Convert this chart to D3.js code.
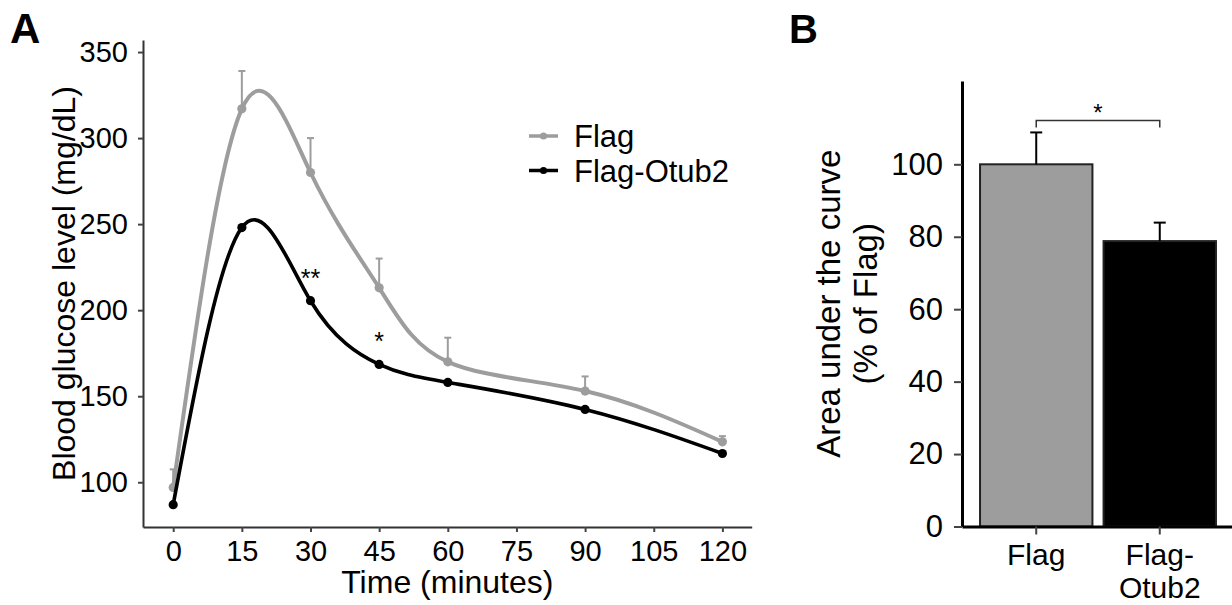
<!DOCTYPE html>
<html>
<head>
<meta charset="utf-8">
<script src="https://cdn.jsdelivr.net/npm/d3@7"></script>
<style>
body{margin:0;background:#fff;}
text{font-family:"Liberation Sans",Arial,sans-serif;}
</style>
</head>
<body>
<script>
// panel A - glucose tolerance test
var times = [0, 15, 30, 45, 60, 90, 120];
var flagMean = [97, 317, 280, 213, 170, 153, 123.5];
var flagSem = [10.5, 22, 20, 17, 14, 8.5, 3.3];
var otubMean = [87, 248, 205.5, 168.5, 158, 142.3, 116.7];
var xTicksA = [0, 15, 30, 45, 60, 75, 90, 105, 120];
var yTicksA = [100, 150, 200, 250, 300, 350];
var sigTimes = [30, 45];
var sigLabels = ["**", "*"];

// panel B - area under curve
var groups = ["Flag", "Flag-Otub2"];
var aucMean = [100, 78.8];
var aucSem = [8.8, 5.1];
var yTicksB = [0, 20, 40, 60, 80, 100];

var W = 1232, H = 605;
var grey = "#9d9d9d";

var svg = d3.select("body").append("svg")
	.attr("width", W)
	.attr("height", H);

// ---------- A ----------
var x = d3.scaleLinear().domain([-6.6, 126.4]).range([143, 751.7]);
var y = d3.scaleLinear().domain([74, 357]).range([527, 40]);

var gxA = svg.append("g")
	.attr("transform", "translate(0," + y.range()[0] + ")")
	.call(d3.axisBottom(x).tickValues(xTicksA).tickSize(5).tickPadding(8).tickSizeOuter(0));
var gyA = svg.append("g")
	.attr("transform", "translate(" + x.range()[0] + ",0)")
	.call(d3.axisLeft(y).tickValues(yTicksA).tickSize(5).tickPadding(10).tickSizeOuter(0));
[gxA, gyA].forEach(function(g){
	g.select(".domain").attr("stroke", "#333").attr("stroke-width", 2);
	g.selectAll(".tick line").attr("stroke", "#444").attr("stroke-width", 2);
	g.selectAll(".tick text").attr("font-size", 29).attr("fill", "#000")
		.style("font-family", "'Liberation Sans',Arial,sans-serif");
});

svg.append("text")
	.attr("x", (x.range()[0] + x.range()[1]) / 2)
	.attr("y", 593)
	.attr("text-anchor", "middle")
	.attr("font-size", 32)
	.text("Time (minutes)");
svg.append("text")
	.attr("transform", "translate(75," + (y.range()[0] + y.range()[1]) / 2 + ") rotate(-90)")
	.attr("text-anchor", "middle")
	.attr("font-size", 32)
	.text("Blood glucose level (mg/dL)");

var line = d3.line()
	.x(function(d){ return x(d[0]); })
	.y(function(d){ return y(d[1]); })
	.curve(d3.curveNatural);

var flagPts = times.map(function(t, i){ return [t, flagMean[i], flagSem[i]]; });
var otubPts = times.map(function(t, i){ return [t, otubMean[i]]; });

// error bars (Flag, upward only)
var eb = svg.append("g").attr("stroke", grey).attr("stroke-width", 2);
flagPts.forEach(function(d){
	eb.append("line")
		.attr("x1", x(d[0])).attr("x2", x(d[0]))
		.attr("y1", y(d[1])).attr("y2", y(d[1] + d[2]));
	eb.append("line")
		.attr("x1", x(d[0]) - 3.5).attr("x2", x(d[0]) + 3.5)
		.attr("y1", y(d[1] + d[2])).attr("y2", y(d[1] + d[2]));
});

svg.append("path").datum(flagPts)
	.attr("d", line)
	.attr("fill", "none")
	.attr("stroke", grey)
	.attr("stroke-width", 4);
svg.selectAll(".pf").data(flagPts).enter().append("circle")
	.attr("cx", function(d){ return x(d[0]); })
	.attr("cy", function(d){ return y(d[1]); })
	.attr("r", 4.6)
	.attr("fill", grey);

svg.append("path").datum(otubPts)
	.attr("d", line)
	.attr("fill", "none")
	.attr("stroke", "#000")
	.attr("stroke-width", 3.6);
svg.selectAll(".po").data(otubPts).enter().append("circle")
	.attr("cx", function(d){ return x(d[0]); })
	.attr("cy", function(d){ return y(d[1]); })
	.attr("r", 4.6)
	.attr("fill", "#000");

// significance stars above the Flag-Otub2 points
sigTimes.forEach(function(t, i){
	var v = otubMean[times.indexOf(t)];
	svg.append("text")
		.attr("x", x(t))
		.attr("y", y(v) - 14)
		.attr("text-anchor", "middle")
		.attr("font-size", 25)
		.text(sigLabels[i]);
});

// legend
var legend = [["Flag", grey], ["Flag-Otub2", "#000"]];
legend.forEach(function(l, i){
	var ly = 136 + i * 34.5;
	svg.append("line")
		.attr("x1", 529).attr("x2", 558)
		.attr("y1", ly).attr("y2", ly)
		.attr("stroke", l[1]).attr("stroke-width", 3.5);
	svg.append("circle").attr("cx", 543.5).attr("cy", ly).attr("r", 3.6).attr("fill", l[1]);
	svg.append("text")
		.attr("x", 574).attr("y", ly + 11)
		.attr("font-size", 31)
		.text(l[0]);
});

svg.append("text").attr("x", 10).attr("y", 43)
	.attr("font-size", 42).attr("font-weight", "bold")
	.text("A");

// ---------- B ----------
var xB = d3.scaleBand().domain(groups).range([962, 1234]).paddingInner(0.09).paddingOuter(0.146);
var yB = d3.scaleLinear().domain([0, 123]).range([526.5, 81]);

var colB = [grey, "#000"];
svg.selectAll(".bar").data(groups).enter().append("rect")
	.attr("x", function(d){ return xB(d); })
	.attr("y", function(d, i){ return yB(aucMean[i]); })
	.attr("width", xB.bandwidth())
	.attr("height", function(d, i){ return yB(0) - yB(aucMean[i]); })
	.attr("fill", function(d, i){ return colB[i]; })
	.attr("stroke", "#222")
	.attr("stroke-width", 2);

groups.forEach(function(g, i){
	var cx = xB(g) + xB.bandwidth() / 2;
	var top = yB(aucMean[i] + aucSem[i]);
	svg.append("line").attr("x1", cx).attr("x2", cx)
		.attr("y1", yB(aucMean[i])).attr("y2", top)
		.attr("stroke", "#000").attr("stroke-width", 2);
	svg.append("line").attr("x1", cx - 6).attr("x2", cx + 6)
		.attr("y1", top).attr("y2", top)
		.attr("stroke", "#000").attr("stroke-width", 2);
});

var gyB = svg.append("g")
	.attr("transform", "translate(962,0)")
	.call(d3.axisLeft(yB).tickValues(yTicksB).tickSize(8).tickPadding(11).tickSizeOuter(0));
var gxB = svg.append("g")
	.attr("transform", "translate(0," + yB(0) + ")")
	.call(d3.axisBottom(xB).tickSize(8).tickSizeOuter(0));
gxB.selectAll(".tick text").remove();
[gxB, gyB].forEach(function(g){
	g.select(".domain").attr("stroke", "#000").attr("stroke-width", 3);
	g.selectAll(".tick line").attr("stroke", "#444").attr("stroke-width", 2);
	g.selectAll(".tick text").attr("font-size", 31).attr("fill", "#000")
		.style("font-family", "'Liberation Sans',Arial,sans-serif");
});

// category labels, second one wraps after the hyphen
var labLines = [["Flag"], ["Flag-", "Otub2"]];
groups.forEach(function(g, i){
	labLines[i].forEach(function(s, j){
		svg.append("text")
			.attr("text-anchor", "middle")
			.attr("font-size", 30)
			.attr("x", xB(g) + xB.bandwidth() / 2)
			.attr("y", 565 + j * 33)
			.text(s);
	});
});

var titleB = svg.append("text")
	.attr("transform", "translate(0," + (yB.range()[0] + yB.range()[1]) / 2 + ") rotate(-90)")
	.attr("text-anchor", "middle")
	.attr("font-size", 33);
titleB.append("tspan").attr("x", 0).attr("y", 840).text("Area under the curve");
titleB.append("tspan").attr("x", 0).attr("y", 877).text("(% of Flag)");

// significance bracket
var bx1 = xB(groups[0]) + xB.bandwidth() / 2;
var bx2 = xB(groups[1]) + xB.bandwidth() / 2;
var by = 120.5;
svg.append("path")
	.attr("d", "M" + bx1 + "," + (by + 7) + "V" + by + "H" + bx2 + "V" + (by + 7))
	.attr("fill", "none")
	.attr("stroke", "#333")
	.attr("stroke-width", 1.5);
svg.append("text")
	.attr("x", (bx1 + bx2) / 2).attr("y", by)
	.attr("text-anchor", "middle")
	.attr("font-size", 24)
	.text("*");

svg.append("text").attr("x", 789).attr("y", 43)
	.attr("font-size", 40).attr("font-weight", "bold")
	.text("B");
</script>
</body>
</html>
